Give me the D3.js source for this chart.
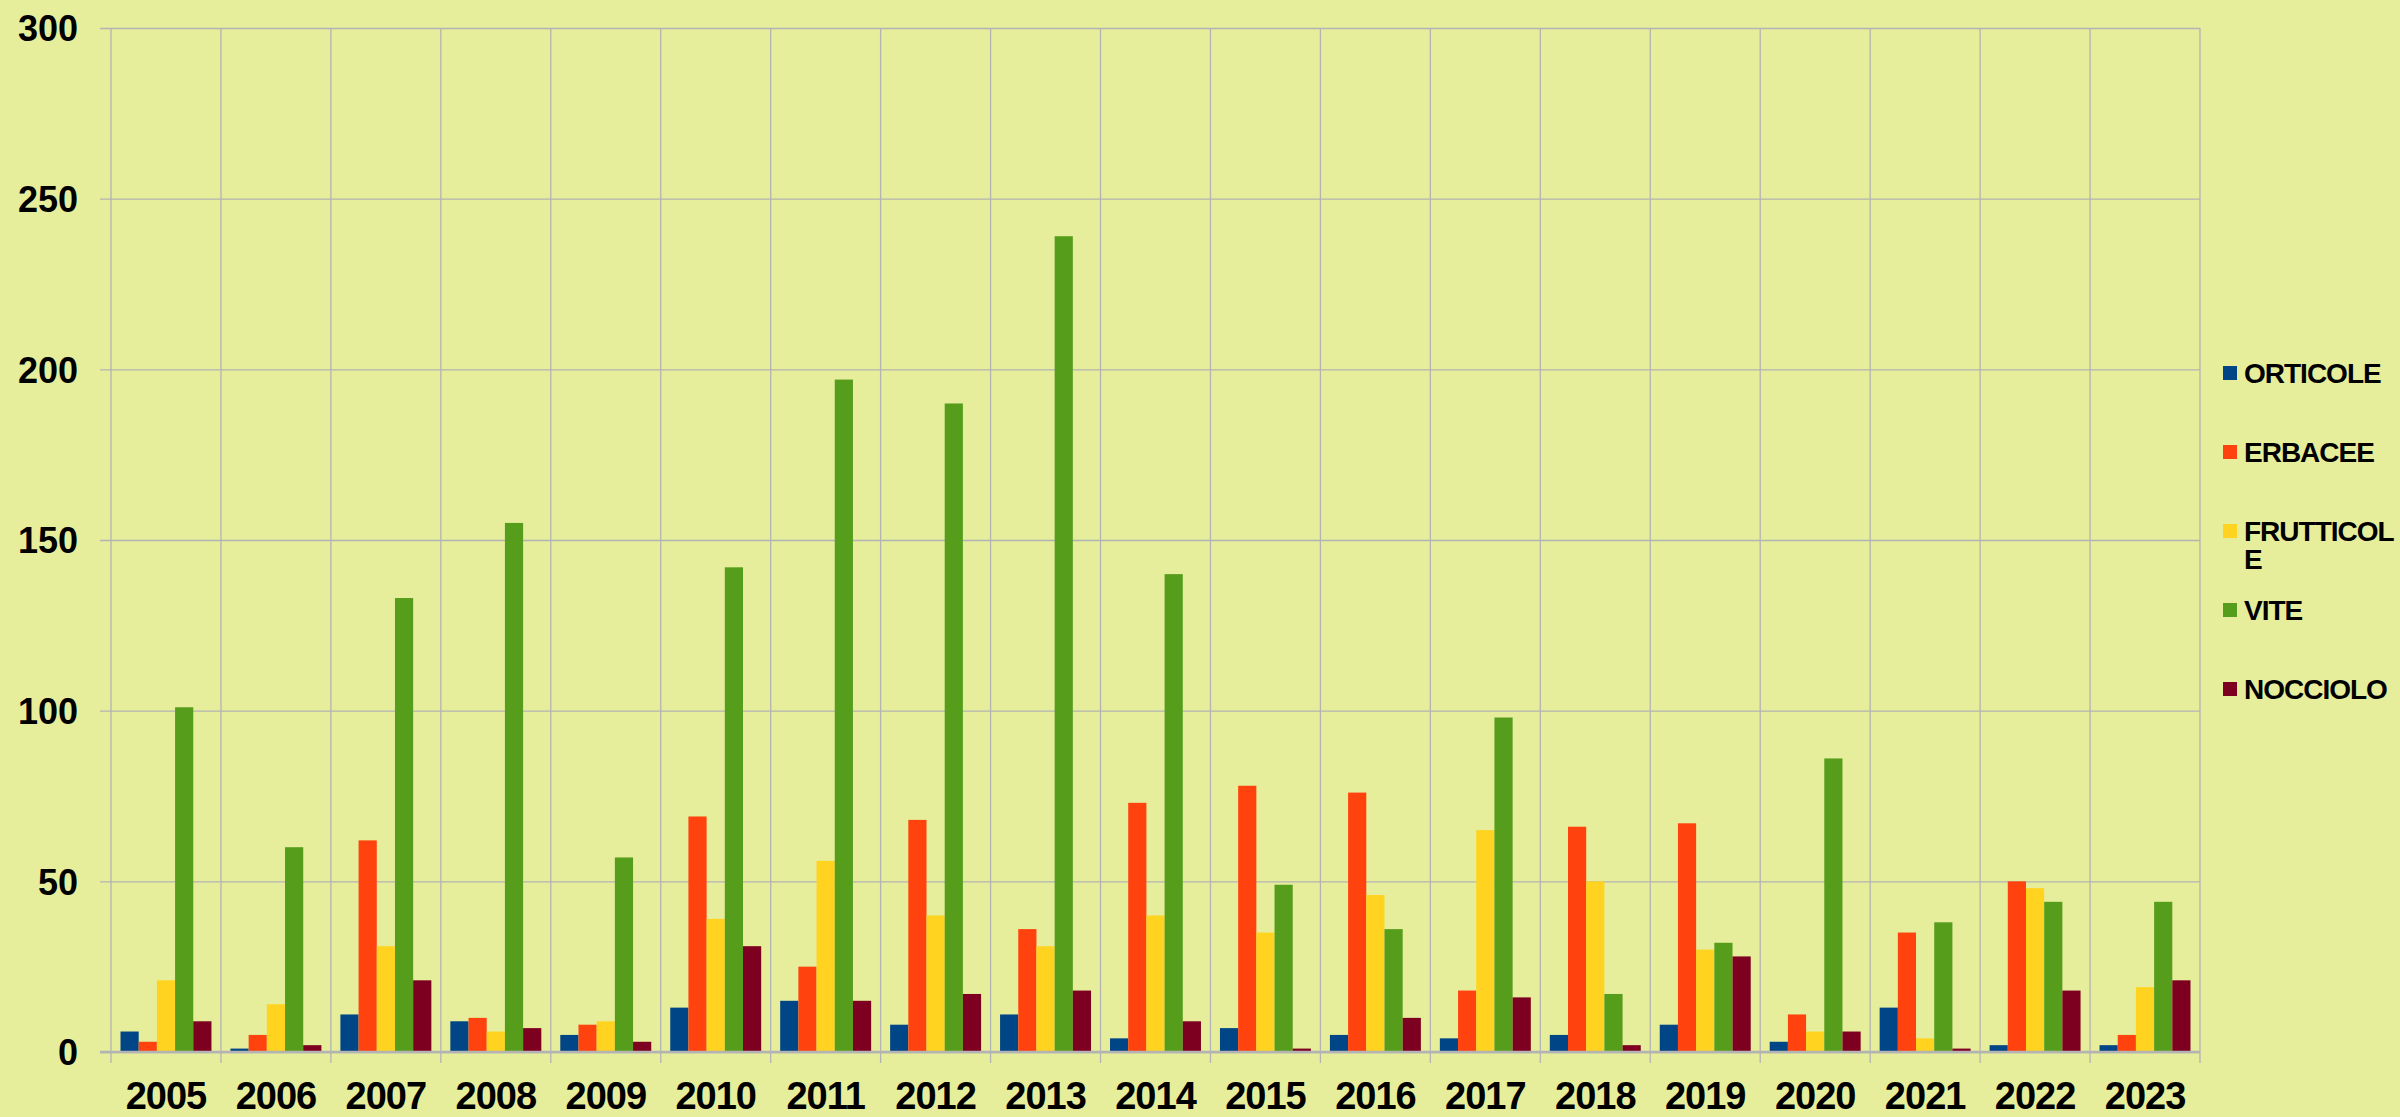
<!DOCTYPE html>
<html lang="it">

<head>
    <meta charset="utf-8">
    <style>
        body { margin: 0; background: #e6ee9c; }
        svg { display: block; font-family: "Liberation Sans", Arial, sans-serif; font-weight: bold; }
        .axis path { display: none; }
        .axis text { fill: #000; font-weight: bold; }
        .axis--y text { font-size: 36px; }
        .axis--x text { font-size: 38px; letter-spacing: -1px; }
        .axis--y line { stroke: #b3b3b3; stroke-width: 1.3; }
    </style>
</head>

<body>
    <svg width="2400" height="1117"></svg>
    <script src="https://d3js.org/d3.v7.min.js"></script>
    <script type="text/javascript">
    // data
    var years = ["2005", "2006", "2007", "2008", "2009", "2010", "2011", "2012", "2013", "2014",
                 "2015", "2016", "2017", "2018", "2019", "2020", "2021", "2022", "2023"];
    var seriesNames = ["ORTICOLE", "ERBACEE", "FRUTTICOLE", "VITE", "NOCCIOLO"];
    var seriesColors = ["#004586", "#ff420e", "#ffd320", "#579d1c", "#7e0021"];

    var orticole   = [6, 1, 11, 9, 5, 13, 15, 8, 11, 4, 7, 5, 4, 5, 8, 3, 13, 2, 2];
    var erbacee    = [3, 5, 62, 10, 8, 69, 25, 68, 36, 73, 78, 76, 18, 66, 67, 11, 35, 50, 5];
    var frutticole = [21, 14, 31, 6, 9, 39, 56, 40, 31, 40, 35, 46, 65, 50, 30, 6, 4, 48, 19];
    var vite       = [101, 60, 133, 155, 57, 142, 197, 190, 239, 140, 49, 36, 98, 17, 32, 86, 38, 44, 44];
    var nocciolo   = [9, 2, 21, 7, 3, 31, 15, 17, 18, 9, 1, 10, 16, 2, 28, 6, 1, 18, 21];

    var yTicks = [0, 50, 100, 150, 200, 250, 300];

    var seriesValues = [orticole, erbacee, frutticole, vite, nocciolo];

    var svg = d3.select("svg"),
        plot = { left: 111, right: 2200, top: 28, bottom: 1052 };

    svg.append("rect").attr("width", 2400).attr("height", 1117).attr("fill", "#e6ee9c");

    var x0 = d3.scaleBand()
        .domain(years)
        .range([plot.left, plot.right])
        .paddingInner(0.1727)
        .paddingOuter(0.0864);

    var x1 = d3.scaleBand()
        .domain(seriesNames)
        .range([0, x0.bandwidth()]);

    var y = d3.scaleLinear()
        .domain([0, 300])
        .range([plot.bottom, plot.top]);

    var color = d3.scaleOrdinal().domain(seriesNames).range(seriesColors);

    // vertical grid lines on category boundaries
    var step = x0.step();
    svg.append("g").selectAll("line")
        .data(d3.range(years.length + 1))
        .enter().append("line")
        .attr("x1", function(i) { return plot.left + i * step; })
        .attr("x2", function(i) { return plot.left + i * step; })
        .attr("y1", plot.top)
        .attr("y2", plot.bottom + 11)
        .attr("stroke", "#b3b3b3")
        .attr("stroke-width", 1.3);

    // y axis + horizontal grid
    svg.append("g")
        .attr("class", "axis axis--y")
        .attr("transform", "translate(100,0)")
        .call(d3.axisLeft(y).tickValues(yTicks).tickSizeInner(-(plot.right - 100)).tickSizeOuter(0).tickPadding(22))
        .selectAll("text").attr("dy", "0.36em");

    // bars
    var rows = years.map(function(yr, i) {
        return { year: yr, values: seriesNames.map(function(s, k) { return { key: s, value: seriesValues[k][i] }; }) };
    });

    svg.append("g").selectAll("g")
        .data(rows)
        .enter().append("g")
        .attr("transform", function(d) { return "translate(" + x0(d.year) + ",0)"; })
        .selectAll("rect")
        .data(function(d) { return d.values; })
        .enter().append("rect")
        .attr("x", function(d) { return x1(d.key); })
        .attr("y", function(d) { return y(d.value); })
        .attr("width", x1.bandwidth())
        .attr("height", function(d) { return plot.bottom - y(d.value); })
        .attr("fill", function(d) { return color(d.key); });

    // zero axis line
    svg.append("line")
        .attr("x1", 100).attr("x2", plot.right)
        .attr("y1", y(0)).attr("y2", y(0))
        .attr("stroke", "#b3b3b3").attr("stroke-width", 2.5);

    // x axis labels
    svg.append("g")
        .attr("class", "axis axis--x")
        .attr("transform", "translate(0," + plot.bottom + ")")
        .call(d3.axisBottom(x0).tickSize(0).tickPadding(30))
        .selectAll("line").remove();

    // legend
    var legendY = [373, 452, 531, 610, 689];
    var legend = svg.append("g").attr("class", "legend");
    seriesNames.forEach(function(name, k) {
        var g = legend.append("g").attr("transform", "translate(2223," + legendY[k] + ")");
        g.append("rect").attr("x", 0).attr("y", -7).attr("width", 14).attr("height", 14).attr("fill", seriesColors[k]);
        var t = g.append("text").attr("x", 21).attr("y", 0).attr("dy", "0.36em")
            .attr("font-size", 28).attr("letter-spacing", "-1px").attr("fill", "#000");
        if (name === "FRUTTICOLE") {
            t.append("tspan").attr("x", 21).text("FRUTTICOL");
            t.append("tspan").attr("x", 21).attr("dy", 28).text("E");
        } else {
            t.text(name);
        }
    });
    </script>
</body>

</html>
